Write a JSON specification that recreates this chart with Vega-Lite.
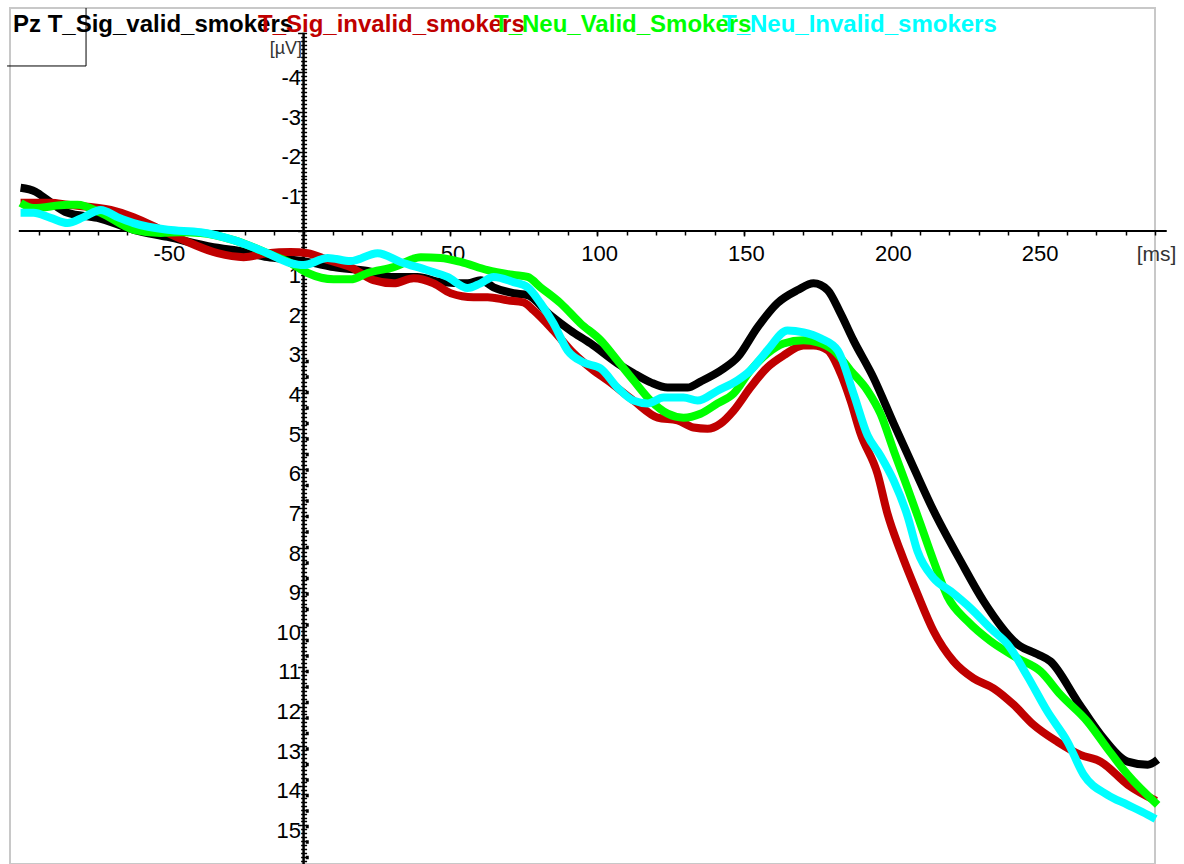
{
  "$schema": "https://vega.github.io/schema/vega-lite/v6.json",
  "width": 1145,
  "height": 856,
  "autosize": {"type": "none"},
  "padding": {"left": 10, "top": 8, "right": 29, "bottom": 0},
  "background": "white",
  "config": {
    "view": {"stroke": "#c8c8c8", "strokeWidth": 2},
    "font": "Liberation Sans",
    "axis": {"grid": false, "domain": false, "labelOverlap": false, "labelFlush": false}
  },
  "resolve": {"axis": {"x": "independent", "y": "independent"}},
  "layer": [
    {
      "data": {"values": [{}]},
      "mark": {"type": "rule", "color": "black", "strokeWidth": 2.5},
      "encoding": {
        "x": {
          "datum": 0, "type": "quantitative",
          "scale": {"domain": [-100, 290], "nice": false, "zero": false},
          "axis": {
            "orient": "bottom", "offset": -633,
            "values": [-90,-80,-70,-60,-50,-40,-30,-20,-10,0,10,20,30,40,50,60,70,80,90,100,110,120,130,140,150,160,170,180,190,200,210,220,230,240,250,260,270,280,290],
            "tickSize": 4, "tickWidth": 1.5, "tickColor": "black",
            "labels": false,
            "title": "[ms]", "titleFontSize": 21, "titleFontWeight": "normal", "titleColor": "#333333",
            "titleX": 1146, "titleY": 23, "titleAlign": "center", "titleBaseline": "middle",
            "domain": false, "grid": false
          }
        },
        "y": {
          "datum": -5.0, "type": "quantitative",
          "scale": {"domain": [-5.627, 15.973], "reverse": true, "nice": false, "zero": false},
          "axis": {
            "orient": "right", "offset": -851.4,
            "values": [-5,-4.9,-4.8,-4.7,-4.6,-4.5,-4.4,-4.3,-4.2,-4.1,-4,-3.9,-3.8,-3.7,-3.6,-3.5,-3.4,-3.3,-3.2,-3.1,-3,-2.9,-2.8,-2.7,-2.6,-2.5,-2.4,-2.3,-2.2,-2.1,-2,-1.9,-1.8,-1.7,-1.6,-1.5,-1.4,-1.3,-1.2,-1.1,-1,-0.9,-0.8,-0.7,-0.6,-0.5,-0.4,-0.3,-0.2,-0.1,0,0.1,0.2,0.3,0.4,0.5,0.6,0.7,0.8,0.9,1,1.1,1.2,1.3,1.4,1.5,1.6,1.7,1.8,1.9,2,2.1,2.2,2.3,2.4,2.5,2.6,2.7,2.8,2.9,3,3.1,3.2,3.3,3.4,3.5,3.6,3.7,3.8,3.9,4,4.1,4.2,4.3,4.4,4.5,4.6,4.7,4.8,4.9,5,5.1,5.2,5.3,5.4,5.5,5.6,5.7,5.8,5.9,6,6.1,6.2,6.3,6.4,6.5,6.6,6.7,6.8,6.9,7,7.1,7.2,7.3,7.4,7.5,7.6,7.7,7.8,7.9,8,8.1,8.2,8.3,8.4,8.5,8.6,8.7,8.8,8.9,9,9.1,9.2,9.3,9.4,9.5,9.6,9.7,9.8,9.9,10,10.1,10.2,10.3,10.4,10.5,10.6,10.7,10.8,10.9,11,11.1,11.2,11.3,11.4,11.5,11.6,11.7,11.8,11.9,12,12.1,12.2,12.3,12.4,12.5,12.6,12.7,12.8,12.9,13,13.1,13.2,13.3,13.4,13.5,13.6,13.7,13.8,13.9,14,14.1,14.2,14.3,14.4,14.5,14.6,14.7,14.8,14.9,15,15.1,15.2,15.3,15.4,15.5,15.6,15.7,15.8,15.9,16],
            "tickSize": 3, "tickWidth": 1.5, "tickColor": "black",
            "labels": false, "title": null, "domain": false, "grid": false
          }
        },
        "y2": {"datum": 16.1}
      }
    },
    {
      "data": {"values": [{}]},
      "mark": {"type": "rule", "color": "black", "strokeWidth": 3, "strokeDash": [3.5, 12]},
      "encoding": {
        "x": {"datum": 1.25, "type": "quantitative", "scale": {"domain": [-100, 290], "nice": false, "zero": false}, "axis": null},
        "y": {"datum": 3.25, "type": "quantitative", "scale": {"domain": [-5.627, 15.973], "reverse": true, "nice": false, "zero": false}, "axis": null},
        "y2": {"datum": 16.1}
      }
    },
    {
      "data": {"values": [{}]},
      "mark": {"type": "rule", "color": "black", "strokeWidth": 2},
      "encoding": {
        "x": {"datum": -97, "type": "quantitative", "scale": {"domain": [-100, 290], "nice": false, "zero": false}, "axis": null},
        "x2": {"datum": 294},
        "y": {"datum": 0, "type": "quantitative", "scale": {"domain": [-5.627, 15.973], "reverse": true, "nice": false, "zero": false}, "axis": null}
      }
    },
    {
      "data": {"values": [{}]},
      "mark": {"type": "rule", "color": "black", "strokeWidth": 1},
      "encoding": {
        "x": {"datum": -74.1, "type": "quantitative", "scale": {"domain": [-100, 290], "nice": false, "zero": false}, "axis": null},
        "y": {"datum": -5.627, "type": "quantitative", "scale": {"domain": [-5.627, 15.973], "reverse": true, "nice": false, "zero": false}, "axis": null},
        "y2": {"datum": -4.164}
      }
    },
    {
      "data": {"values": [{}]},
      "mark": {"type": "rule", "color": "black", "strokeWidth": 1},
      "encoding": {
        "x": {"datum": -101, "type": "quantitative", "scale": {"domain": [-100, 290], "nice": false, "zero": false}, "axis": null},
        "x2": {"datum": -74.1},
        "y": {"datum": -4.164, "type": "quantitative", "scale": {"domain": [-5.627, 15.973], "reverse": true, "nice": false, "zero": false}, "axis": null}
      }
    },
    {
      "data": {"values": [
        {"s":"T_Sig_valid_smokers","t":-96.4,"v":-1.09},{"s":"T_Sig_valid_smokers","t":-91.3,"v":-0.99},{"s":"T_Sig_valid_smokers","t":-87.2,"v":-0.78},{"s":"T_Sig_valid_smokers","t":-80.4,"v":-0.46},{"s":"T_Sig_valid_smokers","t":-70.2,"v":-0.33},{"s":"T_Sig_valid_smokers","t":-57.9,"v":-0.03},{"s":"T_Sig_valid_smokers","t":-46.3,"v":0.15},{"s":"T_Sig_valid_smokers","t":-30.7,"v":0.41},{"s":"T_Sig_valid_smokers","t":-23.8,"v":0.48},{"s":"T_Sig_valid_smokers","t":-12.3,"v":0.66},{"s":"T_Sig_valid_smokers","t":-3.4,"v":0.73},{"s":"T_Sig_valid_smokers","t":1.4,"v":0.78},{"s":"T_Sig_valid_smokers","t":10.2,"v":0.91},{"s":"T_Sig_valid_smokers","t":21.8,"v":1.01},{"s":"T_Sig_valid_smokers","t":30.7,"v":1.16},{"s":"T_Sig_valid_smokers","t":38.8,"v":1.16},{"s":"T_Sig_valid_smokers","t":46.7,"v":1.29},{"s":"T_Sig_valid_smokers","t":55.9,"v":1.32},{"s":"T_Sig_valid_smokers","t":60.3,"v":1.24},{"s":"T_Sig_valid_smokers","t":64.7,"v":1.42},{"s":"T_Sig_valid_smokers","t":71.5,"v":1.57},{"s":"T_Sig_valid_smokers","t":76.3,"v":1.62},{"s":"T_Sig_valid_smokers","t":84.1,"v":2.13},{"s":"T_Sig_valid_smokers","t":90.9,"v":2.51},{"s":"T_Sig_valid_smokers","t":97.8,"v":2.84},{"s":"T_Sig_valid_smokers","t":106.9,"v":3.34},{"s":"T_Sig_valid_smokers","t":112.4,"v":3.59},{"s":"T_Sig_valid_smokers","t":118.2,"v":3.82},{"s":"T_Sig_valid_smokers","t":124.0,"v":3.95},{"s":"T_Sig_valid_smokers","t":130.8,"v":3.95},{"s":"T_Sig_valid_smokers","t":135.2,"v":3.8},{"s":"T_Sig_valid_smokers","t":143.1,"v":3.47},{"s":"T_Sig_valid_smokers","t":147.8,"v":3.19},{"s":"T_Sig_valid_smokers","t":154.6,"v":2.43},{"s":"T_Sig_valid_smokers","t":161.4,"v":1.82},{"s":"T_Sig_valid_smokers","t":168.3,"v":1.49},{"s":"T_Sig_valid_smokers","t":173.7,"v":1.32},{"s":"T_Sig_valid_smokers","t":178.5,"v":1.49},{"s":"T_Sig_valid_smokers","t":182.9,"v":2.08},{"s":"T_Sig_valid_smokers","t":187.3,"v":2.76},{"s":"T_Sig_valid_smokers","t":194.1,"v":3.7},{"s":"T_Sig_valid_smokers","t":201.0,"v":4.86},{"s":"T_Sig_valid_smokers","t":207.8,"v":5.97},{"s":"T_Sig_valid_smokers","t":214.6,"v":7.06},{"s":"T_Sig_valid_smokers","t":223.8,"v":8.33},{"s":"T_Sig_valid_smokers","t":231.6,"v":9.34},{"s":"T_Sig_valid_smokers","t":243.2,"v":10.43},{"s":"T_Sig_valid_smokers","t":250.0,"v":10.68},{"s":"T_Sig_valid_smokers","t":254.4,"v":10.86},{"s":"T_Sig_valid_smokers","t":263.6,"v":11.87},{"s":"T_Sig_valid_smokers","t":271.5,"v":12.71},{"s":"T_Sig_valid_smokers","t":280.7,"v":13.39},{"s":"T_Sig_valid_smokers","t":287.5,"v":13.47},{"s":"T_Sig_valid_smokers","t":290.9,"v":13.34},
        {"s":"T_Sig_invalid_smokers","t":-96.4,"v":-0.71},{"s":"T_Sig_invalid_smokers","t":-86.2,"v":-0.71},{"s":"T_Sig_invalid_smokers","t":-80.4,"v":-0.66},{"s":"T_Sig_invalid_smokers","t":-65.7,"v":-0.53},{"s":"T_Sig_invalid_smokers","t":-57.9,"v":-0.35},{"s":"T_Sig_invalid_smokers","t":-46.3,"v":0.05},{"s":"T_Sig_invalid_smokers","t":-40.9,"v":0.23},{"s":"T_Sig_invalid_smokers","t":-29.3,"v":0.56},{"s":"T_Sig_invalid_smokers","t":-20.4,"v":0.66},{"s":"T_Sig_invalid_smokers","t":-12.3,"v":0.56},{"s":"T_Sig_invalid_smokers","t":-4.4,"v":0.53},{"s":"T_Sig_invalid_smokers","t":1.4,"v":0.56},{"s":"T_Sig_invalid_smokers","t":8.2,"v":0.73},{"s":"T_Sig_invalid_smokers","t":16.0,"v":0.91},{"s":"T_Sig_invalid_smokers","t":23.8,"v":1.24},{"s":"T_Sig_invalid_smokers","t":30.7,"v":1.32},{"s":"T_Sig_invalid_smokers","t":37.5,"v":1.19},{"s":"T_Sig_invalid_smokers","t":44.3,"v":1.32},{"s":"T_Sig_invalid_smokers","t":50.1,"v":1.57},{"s":"T_Sig_invalid_smokers","t":57.9,"v":1.67},{"s":"T_Sig_invalid_smokers","t":62.7,"v":1.67},{"s":"T_Sig_invalid_smokers","t":69.5,"v":1.75},{"s":"T_Sig_invalid_smokers","t":74.9,"v":1.8},{"s":"T_Sig_invalid_smokers","t":78.3,"v":2.0},{"s":"T_Sig_invalid_smokers","t":85.1,"v":2.51},{"s":"T_Sig_invalid_smokers","t":92.0,"v":3.09},{"s":"T_Sig_invalid_smokers","t":98.8,"v":3.52},{"s":"T_Sig_invalid_smokers","t":103.5,"v":3.77},{"s":"T_Sig_invalid_smokers","t":112.4,"v":4.28},{"s":"T_Sig_invalid_smokers","t":120.6,"v":4.71},{"s":"T_Sig_invalid_smokers","t":127.4,"v":4.78},{"s":"T_Sig_invalid_smokers","t":132.8,"v":4.96},{"s":"T_Sig_invalid_smokers","t":137.6,"v":4.99},{"s":"T_Sig_invalid_smokers","t":142.0,"v":4.86},{"s":"T_Sig_invalid_smokers","t":146.5,"v":4.53},{"s":"T_Sig_invalid_smokers","t":152.2,"v":3.95},{"s":"T_Sig_invalid_smokers","t":158.0,"v":3.44},{"s":"T_Sig_invalid_smokers","t":163.5,"v":3.14},{"s":"T_Sig_invalid_smokers","t":170.3,"v":2.89},{"s":"T_Sig_invalid_smokers","t":173.7,"v":2.89},{"s":"T_Sig_invalid_smokers","t":178.5,"v":3.01},{"s":"T_Sig_invalid_smokers","t":182.9,"v":3.59},{"s":"T_Sig_invalid_smokers","t":186.3,"v":4.28},{"s":"T_Sig_invalid_smokers","t":189.7,"v":5.11},{"s":"T_Sig_invalid_smokers","t":195.5,"v":6.13},{"s":"T_Sig_invalid_smokers","t":198.9,"v":7.14},{"s":"T_Sig_invalid_smokers","t":203.3,"v":8.08},{"s":"T_Sig_invalid_smokers","t":209.1,"v":9.16},{"s":"T_Sig_invalid_smokers","t":214.6,"v":10.1},{"s":"T_Sig_invalid_smokers","t":221.4,"v":10.86},{"s":"T_Sig_invalid_smokers","t":228.2,"v":11.29},{"s":"T_Sig_invalid_smokers","t":235.0,"v":11.54},{"s":"T_Sig_invalid_smokers","t":241.8,"v":11.95},{"s":"T_Sig_invalid_smokers","t":248.6,"v":12.46},{"s":"T_Sig_invalid_smokers","t":256.8,"v":12.89},{"s":"T_Sig_invalid_smokers","t":264.6,"v":13.22},{"s":"T_Sig_invalid_smokers","t":271.5,"v":13.39},{"s":"T_Sig_invalid_smokers","t":280.7,"v":13.97},{"s":"T_Sig_invalid_smokers","t":290.4,"v":14.38},
        {"s":"T_Neu_Valid_Smokers","t":-96.4,"v":-0.71},{"s":"T_Neu_Valid_Smokers","t":-92.0,"v":-0.58},{"s":"T_Neu_Valid_Smokers","t":-80.4,"v":-0.66},{"s":"T_Neu_Valid_Smokers","t":-77.0,"v":-0.66},{"s":"T_Neu_Valid_Smokers","t":-69.1,"v":-0.46},{"s":"T_Neu_Valid_Smokers","t":-57.9,"v":-0.03},{"s":"T_Neu_Valid_Smokers","t":-48.7,"v":0.05},{"s":"T_Neu_Valid_Smokers","t":-41.9,"v":0.03},{"s":"T_Neu_Valid_Smokers","t":-35.1,"v":0.05},{"s":"T_Neu_Valid_Smokers","t":-23.8,"v":0.23},{"s":"T_Neu_Valid_Smokers","t":-12.3,"v":0.56},{"s":"T_Neu_Valid_Smokers","t":-4.4,"v":0.81},{"s":"T_Neu_Valid_Smokers","t":1.4,"v":1.06},{"s":"T_Neu_Valid_Smokers","t":10.2,"v":1.22},{"s":"T_Neu_Valid_Smokers","t":16.0,"v":1.22},{"s":"T_Neu_Valid_Smokers","t":21.8,"v":1.06},{"s":"T_Neu_Valid_Smokers","t":30.7,"v":0.91},{"s":"T_Neu_Valid_Smokers","t":39.9,"v":0.66},{"s":"T_Neu_Valid_Smokers","t":46.7,"v":0.68},{"s":"T_Neu_Valid_Smokers","t":53.5,"v":0.78},{"s":"T_Neu_Valid_Smokers","t":62.7,"v":0.99},{"s":"T_Neu_Valid_Smokers","t":71.5,"v":1.11},{"s":"T_Neu_Valid_Smokers","t":76.3,"v":1.16},{"s":"T_Neu_Valid_Smokers","t":80.7,"v":1.42},{"s":"T_Neu_Valid_Smokers","t":87.5,"v":1.82},{"s":"T_Neu_Valid_Smokers","t":94.3,"v":2.33},{"s":"T_Neu_Valid_Smokers","t":101.2,"v":2.76},{"s":"T_Neu_Valid_Smokers","t":106.9,"v":3.27},{"s":"T_Neu_Valid_Smokers","t":112.4,"v":3.77},{"s":"T_Neu_Valid_Smokers","t":118.2,"v":4.28},{"s":"T_Neu_Valid_Smokers","t":124.0,"v":4.61},{"s":"T_Neu_Valid_Smokers","t":129.4,"v":4.71},{"s":"T_Neu_Valid_Smokers","t":135.2,"v":4.61},{"s":"T_Neu_Valid_Smokers","t":141.0,"v":4.35},{"s":"T_Neu_Valid_Smokers","t":146.5,"v":4.1},{"s":"T_Neu_Valid_Smokers","t":152.2,"v":3.52},{"s":"T_Neu_Valid_Smokers","t":158.0,"v":3.09},{"s":"T_Neu_Valid_Smokers","t":163.5,"v":2.84},{"s":"T_Neu_Valid_Smokers","t":170.3,"v":2.76},{"s":"T_Neu_Valid_Smokers","t":175.1,"v":2.81},{"s":"T_Neu_Valid_Smokers","t":180.5,"v":3.01},{"s":"T_Neu_Valid_Smokers","t":186.3,"v":3.52},{"s":"T_Neu_Valid_Smokers","t":192.1,"v":4.03},{"s":"T_Neu_Valid_Smokers","t":196.5,"v":4.61},{"s":"T_Neu_Valid_Smokers","t":201.0,"v":5.54},{"s":"T_Neu_Valid_Smokers","t":205.7,"v":6.48},{"s":"T_Neu_Valid_Smokers","t":210.1,"v":7.39},{"s":"T_Neu_Valid_Smokers","t":214.6,"v":8.33},{"s":"T_Neu_Valid_Smokers","t":219.3,"v":9.22},{"s":"T_Neu_Valid_Smokers","t":226.2,"v":9.85},{"s":"T_Neu_Valid_Smokers","t":234.0,"v":10.35},{"s":"T_Neu_Valid_Smokers","t":243.2,"v":10.78},{"s":"T_Neu_Valid_Smokers","t":251.0,"v":11.11},{"s":"T_Neu_Valid_Smokers","t":257.8,"v":11.7},{"s":"T_Neu_Valid_Smokers","t":267.0,"v":12.38},{"s":"T_Neu_Valid_Smokers","t":273.8,"v":13.06},{"s":"T_Neu_Valid_Smokers","t":280.7,"v":13.72},{"s":"T_Neu_Valid_Smokers","t":290.9,"v":14.48},
        {"s":"T_Neu_Invalid_smokers","t":-96.4,"v":-0.46},{"s":"T_Neu_Invalid_smokers","t":-92.0,"v":-0.46},{"s":"T_Neu_Invalid_smokers","t":-86.2,"v":-0.33},{"s":"T_Neu_Invalid_smokers","t":-80.4,"v":-0.2},{"s":"T_Neu_Invalid_smokers","t":-74.9,"v":-0.35},{"s":"T_Neu_Invalid_smokers","t":-69.1,"v":-0.53},{"s":"T_Neu_Invalid_smokers","t":-63.4,"v":-0.35},{"s":"T_Neu_Invalid_smokers","t":-57.9,"v":-0.2},{"s":"T_Neu_Invalid_smokers","t":-46.3,"v":-0.03},{"s":"T_Neu_Invalid_smokers","t":-35.1,"v":0.03},{"s":"T_Neu_Invalid_smokers","t":-23.8,"v":0.23},{"s":"T_Neu_Invalid_smokers","t":-12.3,"v":0.56},{"s":"T_Neu_Invalid_smokers","t":-4.4,"v":0.81},{"s":"T_Neu_Invalid_smokers","t":0.0,"v":0.86},{"s":"T_Neu_Invalid_smokers","t":8.2,"v":0.68},{"s":"T_Neu_Invalid_smokers","t":16.0,"v":0.76},{"s":"T_Neu_Invalid_smokers","t":25.2,"v":0.56},{"s":"T_Neu_Invalid_smokers","t":33.0,"v":0.78},{"s":"T_Neu_Invalid_smokers","t":42.2,"v":0.99},{"s":"T_Neu_Invalid_smokers","t":49.0,"v":1.16},{"s":"T_Neu_Invalid_smokers","t":55.9,"v":1.44},{"s":"T_Neu_Invalid_smokers","t":60.3,"v":1.32},{"s":"T_Neu_Invalid_smokers","t":64.7,"v":1.16},{"s":"T_Neu_Invalid_smokers","t":71.5,"v":1.29},{"s":"T_Neu_Invalid_smokers","t":76.3,"v":1.42},{"s":"T_Neu_Invalid_smokers","t":80.7,"v":1.82},{"s":"T_Neu_Invalid_smokers","t":85.1,"v":2.33},{"s":"T_Neu_Invalid_smokers","t":89.9,"v":3.01},{"s":"T_Neu_Invalid_smokers","t":95.4,"v":3.32},{"s":"T_Neu_Invalid_smokers","t":101.2,"v":3.47},{"s":"T_Neu_Invalid_smokers","t":106.9,"v":3.95},{"s":"T_Neu_Invalid_smokers","t":112.4,"v":4.28},{"s":"T_Neu_Invalid_smokers","t":117.2,"v":4.35},{"s":"T_Neu_Invalid_smokers","t":122.6,"v":4.2},{"s":"T_Neu_Invalid_smokers","t":129.4,"v":4.2},{"s":"T_Neu_Invalid_smokers","t":134.2,"v":4.28},{"s":"T_Neu_Invalid_smokers","t":141.0,"v":4.03},{"s":"T_Neu_Invalid_smokers","t":147.8,"v":3.77},{"s":"T_Neu_Invalid_smokers","t":152.2,"v":3.52},{"s":"T_Neu_Invalid_smokers","t":158.0,"v":3.01},{"s":"T_Neu_Invalid_smokers","t":164.8,"v":2.51},{"s":"T_Neu_Invalid_smokers","t":170.3,"v":2.56},{"s":"T_Neu_Invalid_smokers","t":176.1,"v":2.71},{"s":"T_Neu_Invalid_smokers","t":181.9,"v":3.01},{"s":"T_Neu_Invalid_smokers","t":187.3,"v":4.1},{"s":"T_Neu_Invalid_smokers","t":192.1,"v":5.16},{"s":"T_Neu_Invalid_smokers","t":196.5,"v":5.67},{"s":"T_Neu_Invalid_smokers","t":201.0,"v":6.3},{"s":"T_Neu_Invalid_smokers","t":205.7,"v":7.19},{"s":"T_Neu_Invalid_smokers","t":209.1,"v":8.08},{"s":"T_Neu_Invalid_smokers","t":214.6,"v":8.76},{"s":"T_Neu_Invalid_smokers","t":220.4,"v":9.09},{"s":"T_Neu_Invalid_smokers","t":227.2,"v":9.52},{"s":"T_Neu_Invalid_smokers","t":234.0,"v":10.03},{"s":"T_Neu_Invalid_smokers","t":239.8,"v":10.43},{"s":"T_Neu_Invalid_smokers","t":246.6,"v":11.24},{"s":"T_Neu_Invalid_smokers","t":253.4,"v":12.13},{"s":"T_Neu_Invalid_smokers","t":260.2,"v":12.89},{"s":"T_Neu_Invalid_smokers","t":265.7,"v":13.72},{"s":"T_Neu_Invalid_smokers","t":273.8,"v":14.23},{"s":"T_Neu_Invalid_smokers","t":280.7,"v":14.48},{"s":"T_Neu_Invalid_smokers","t":287.5,"v":14.73},{"s":"T_Neu_Invalid_smokers","t":290.2,"v":14.84}
      ]},
      "mark": {"type": "line", "strokeWidth": 8, "strokeJoin": "round", "interpolate": "monotone"},
      "encoding": {
        "x": {
          "field": "t", "type": "quantitative",
          "scale": {"domain": [-100, 290], "nice": false, "zero": false},
          "axis": {
            "orient": "bottom", "offset": -633,
            "values": [-50, 50, 100, 150, 200, 250],
            "tickSize": 5, "tickWidth": 1.5, "tickColor": "black",
            "labelExpr": "toString(datum.value)",
            "labelFontSize": 22, "labelColor": "black", "labelPadding": 7,
            "labelOverlap": false, "labelFlush": false,
            "labelOffset": {"condition": {"test": "datum.value < 0", "value": 12}, "value": 2},
            "title": null, "domain": false, "grid": false
          }
        },
        "y": {
          "field": "v", "type": "quantitative",
          "scale": {"domain": [-5.627, 15.973], "reverse": true, "nice": false, "zero": false},
          "axis": {
            "orient": "left", "offset": -293.6,
            "values": [-5,-4.9,-4.8,-4.7,-4.6,-4.5,-4.4,-4.3,-4.2,-4.1,-4,-3.9,-3.8,-3.7,-3.6,-3.5,-3.4,-3.3,-3.2,-3.1,-3,-2.9,-2.8,-2.7,-2.6,-2.5,-2.4,-2.3,-2.2,-2.1,-2,-1.9,-1.8,-1.7,-1.6,-1.5,-1.4,-1.3,-1.2,-1.1,-1,-0.9,-0.8,-0.7,-0.6,-0.5,-0.4,-0.3,-0.2,-0.1,0,0.1,0.2,0.3,0.4,0.5,0.6,0.7,0.8,0.9,1,1.1,1.2,1.3,1.4,1.5,1.6,1.7,1.8,1.9,2,2.1,2.2,2.3,2.4,2.5,2.6,2.7,2.8,2.9,3,3.1,3.2,3.3,3.4,3.5,3.6,3.7,3.8,3.9,4,4.1,4.2,4.3,4.4,4.5,4.6,4.7,4.8,4.9,5,5.1,5.2,5.3,5.4,5.5,5.6,5.7,5.8,5.9,6,6.1,6.2,6.3,6.4,6.5,6.6,6.7,6.8,6.9,7,7.1,7.2,7.3,7.4,7.5,7.6,7.7,7.8,7.9,8,8.1,8.2,8.3,8.4,8.5,8.6,8.7,8.8,8.9,9,9.1,9.2,9.3,9.4,9.5,9.6,9.7,9.8,9.9,10,10.1,10.2,10.3,10.4,10.5,10.6,10.7,10.8,10.9,11,11.1,11.2,11.3,11.4,11.5,11.6,11.7,11.8,11.9,12,12.1,12.2,12.3,12.4,12.5,12.6,12.7,12.8,12.9,13,13.1,13.2,13.3,13.4,13.5,13.6,13.7,13.8,13.9,14,14.1,14.2,14.3,14.4,14.5,14.6,14.7,14.8,14.9,15,15.1,15.2,15.3,15.4,15.5,15.6,15.7,15.8,15.9,16],
            "tickSize": {"condition": {"test": "abs(datum.value - round(datum.value)) < 0.001", "value": 6}, "value": 3},
            "tickWidth": 1.5, "tickColor": "black",
            "labelExpr": "abs(datum.value - round(datum.value)) < 0.001 && round(datum.value) != 0 && datum.value > -4.5 ? toString(round(datum.value)) : ''",
            "labelFontSize": 22, "labelColor": "black", "labelPadding": -3, "labelOffset": 5,
            "labelOverlap": false, "labelFlush": false,
            "title": "[µV]", "titleAngle": 0, "titleAlign": "right", "titleBaseline": "middle",
            "titleX": -2, "titleY": 40, "titleFontSize": 18, "titleFontWeight": "normal", "titleColor": "#333333",
            "domain": false, "grid": false
          }
        },
        "color": {
          "field": "s", "type": "nominal",
          "scale": {
            "domain": ["T_Sig_valid_smokers", "T_Sig_invalid_smokers", "T_Neu_Valid_Smokers", "T_Neu_Invalid_smokers"],
            "range": ["#000000", "#c00000", "#00ff00", "#00ffff"]
          },
          "legend": null
        }
      }
    },
    {
      "data": {"values": [{"label": "Pz T_Sig_valid_smokers"}]},
      "mark": {"type": "text", "align": "left", "baseline": "alphabetic", "fontSize": 24, "fontWeight": "bold", "font": "Liberation Sans", "color": "#000000"},
      "encoding": {
        "x": {"datum": -98.98, "type": "quantitative", "scale": {"domain": [-100, 290], "nice": false, "zero": false}, "axis": null},
        "y": {"datum": -5.02, "type": "quantitative", "scale": {"domain": [-5.627, 15.973], "reverse": true, "nice": false, "zero": false}, "axis": null},
        "text": {"field": "label"}
      }
    },
    {
      "data": {"values": [{"label": "T_Sig_invalid_smokers"}]},
      "mark": {"type": "text", "align": "left", "baseline": "alphabetic", "fontSize": 24, "fontWeight": "bold", "font": "Liberation Sans", "color": "#c00000"},
      "encoding": {
        "x": {"datum": -15.53, "type": "quantitative", "scale": {"domain": [-100, 290], "nice": false, "zero": false}, "axis": null},
        "y": {"datum": -5.02, "type": "quantitative", "scale": {"domain": [-5.627, 15.973], "reverse": true, "nice": false, "zero": false}, "axis": null},
        "text": {"field": "label"}
      }
    },
    {
      "data": {"values": [{"label": "T_Neu_Valid_Smokers"}]},
      "mark": {"type": "text", "align": "left", "baseline": "alphabetic", "fontSize": 24, "fontWeight": "bold", "font": "Liberation Sans", "color": "#00ff00"},
      "encoding": {
        "x": {"datum": 64.85, "type": "quantitative", "scale": {"domain": [-100, 290], "nice": false, "zero": false}, "axis": null},
        "y": {"datum": -5.02, "type": "quantitative", "scale": {"domain": [-5.627, 15.973], "reverse": true, "nice": false, "zero": false}, "axis": null},
        "text": {"field": "label"}
      }
    },
    {
      "data": {"values": [{"label": "T_Neu_Invalid_smokers"}]},
      "mark": {"type": "text", "align": "left", "baseline": "alphabetic", "fontSize": 24, "fontWeight": "bold", "font": "Liberation Sans", "color": "#00ffff"},
      "encoding": {
        "x": {"datum": 142.51, "type": "quantitative", "scale": {"domain": [-100, 290], "nice": false, "zero": false}, "axis": null},
        "y": {"datum": -5.02, "type": "quantitative", "scale": {"domain": [-5.627, 15.973], "reverse": true, "nice": false, "zero": false}, "axis": null},
        "text": {"field": "label"}
      }
    }
  ]
}
